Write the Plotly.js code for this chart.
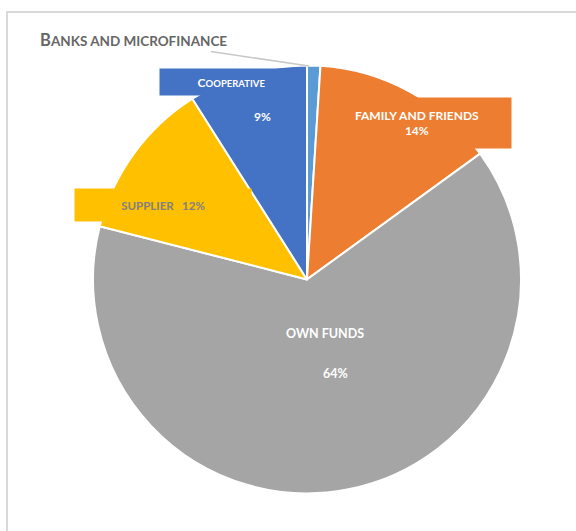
<!DOCTYPE html>
<html>
<head>
<meta charset="utf-8">
<script src="https://cdn.plot.ly/plotly-3.0.1.min.js"></script>
<style>
html,body{margin:0;padding:0;background:#fff;}
#frame{position:absolute;left:6px;top:11px;width:600px;height:560px;border-left:2px solid #d9d9d9;border-top:2px solid #d9d9d9;}
#chart{position:absolute;left:0;top:0;width:576px;height:531px;}
</style>
</head>
<body>
<div id="frame"></div>
<div id="chart"></div>
<script>
// Data
var categories = ["Banks and microfinance", "Family and friends", "Own funds", "Supplier", "Cooperative"];
var values = [1, 14, 64, 12, 9];
var colors = ["#5B9BD5", "#ED7D31", "#A5A5A5", "#FFC000", "#4472C4"];
var percentLabels = ["1%", "14%", "64%", "12%", "9%"];

function smallCaps(s, big, small) {
  var u = s.toUpperCase();
  return "<span style='font-size:" + big + "px'>" + u.charAt(0) + "</span>" +
    "<span style='font-size:" + small + "px'>" + u.slice(1) + "</span>";
}

var trace = {
  type: "pie",
  labels: categories,
  values: values,
  sort: false,
  direction: "clockwise",
  rotation: 0,
  marker: { colors: colors, line: { color: "#ffffff", width: 2 } },
  textinfo: "none",
  hoverinfo: "label+percent",
  domain: { x: [0.1615, 0.9045], y: [0.0700, 0.8776] },
  showlegend: false
};

var F = "Lato, 'Open Sans', sans-serif";
function ann(o) {
  o.xref = "paper"; o.yref = "paper";
  o.xanchor = "center"; o.yanchor = "middle";
  if (o.showarrow === undefined) o.showarrow = false;
  return o;
}
var annotations = [
  // Banks and microfinance (outside, with leader line)
  ann({ x: 309 / 576, y: 1 - 66 / 531, ax: 133 - 309, ay: 40 - 66,
    showarrow: true, arrowhead: 0, arrowwidth: 1.5, arrowcolor: "#c8c8c8",
    text: "<b>" + smallCaps(categories[0], 16.5, 13.5) + "</b>",
    font: { family: F, color: "#666666" } }),
  // Cooperative
  ann({ x: 231 / 576, y: 1 - 82 / 531,
    text: "<b>" + smallCaps(categories[4], 12, 9.5) + "</b>",
    font: { family: F, color: "#ffffff" }, bgcolor: colors[4], width: 141, height: 24 }),
  ann({ x: 262 / 576, y: 1 - 116 / 531,
    text: "<b>" + percentLabels[4] + "</b>", font: { family: F, size: 12, color: "#ffffff" } }),
  // Family and friends
  ann({ x: 417 / 576, y: 1 - 123 / 531,
    text: "<b>" + categories[1].toUpperCase() + "</b><br><b>" + percentLabels[1] + "</b>",
    font: { family: F, size: 12, color: "#ffffff" }, bgcolor: colors[1], width: 186, height: 48 }),
  // Supplier
  ann({ x: 163 / 576, y: 1 - 205 / 531,
    text: "<b>" + categories[3].toUpperCase() + "   " + percentLabels[3] + "</b>",
    font: { family: F, size: 11.5, color: "#808080" }, bgcolor: colors[3], width: 174, height: 30 }),
  // Own funds
  ann({ x: 325 / 576, y: 1 - 333 / 531,
    text: "<b>" + categories[2].toUpperCase() + "</b>", font: { family: F, size: 12.5, color: "#ffffff" } }),
  ann({ x: 335 / 576, y: 1 - 373 / 531,
    text: "<b>" + percentLabels[2] + "</b>", font: { family: F, size: 12.5, color: "#ffffff" } })
];

var layout = {
  width: 576, height: 531,
  margin: { l: 0, r: 0, t: 0, b: 0 },
  paper_bgcolor: "rgba(0,0,0,0)",
  plot_bgcolor: "rgba(0,0,0,0)",
  showlegend: false,
  annotations: annotations
};

Plotly.newPlot("chart", [trace], layout, { displayModeBar: false, staticPlot: true });
</script>
</body>
</html>
